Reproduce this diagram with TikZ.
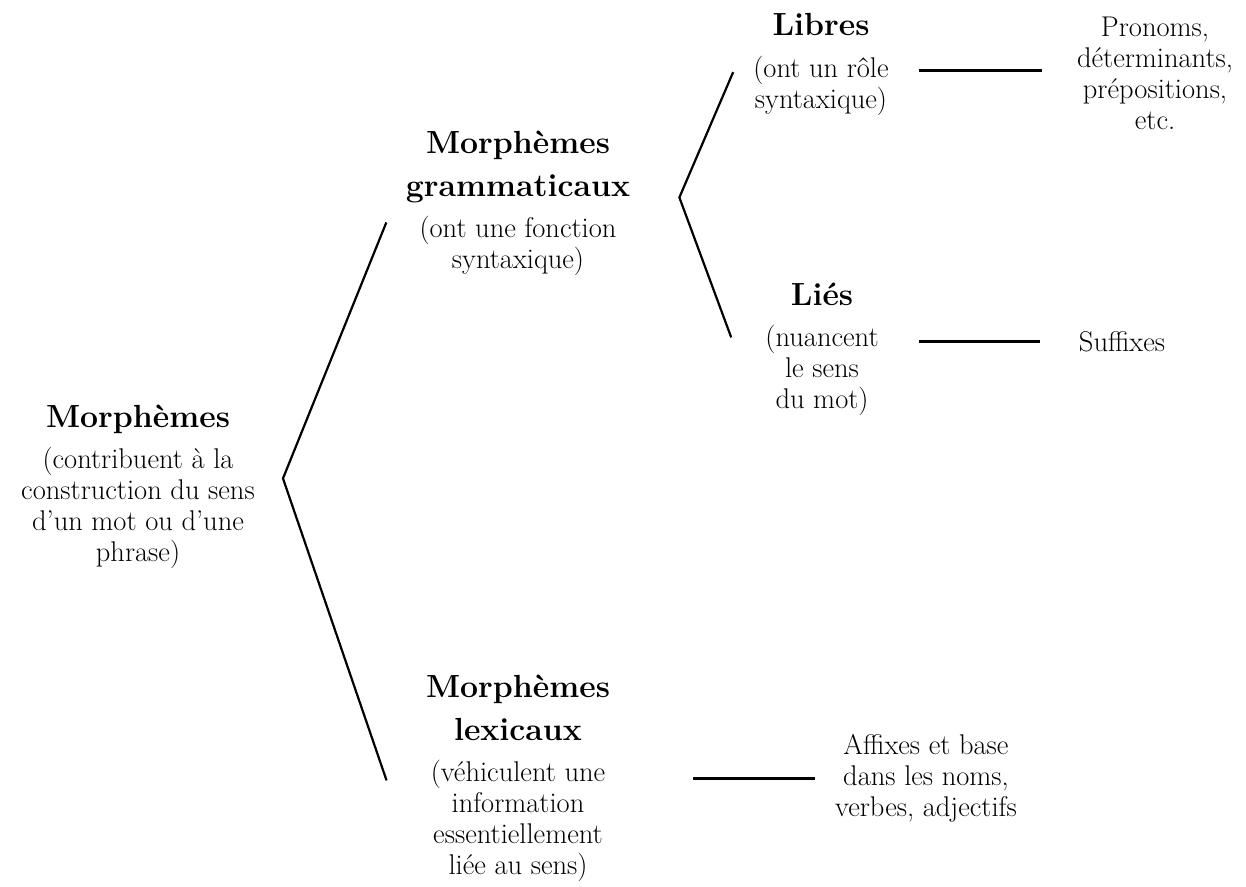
\documentclass[tikz,border=0pt]{standalone}
\usepackage{fontspec}
\usetikzlibrary{positioning,calc}

\begin{document}
\begin{tikzpicture}[x=1pt, y=-1pt, node distance=13pt,
  head/.style={font=\fontsize{32}{43}\selectfont\bfseries, align=center, inner sep=0pt, text depth=7pt},
  desc/.style={font=\fontsize{28.5}{31}\selectfont, align=center, inner sep=0pt},
  fork/.style={line width=2.2pt, line join=miter},
  link/.style={line width=2.8pt}]
\useasboundingbox (0,0) rectangle (1246,886);

% racine
\node[head, anchor=north] (morph) at (138,404.5) {Morphèmes};
\node[desc, below=of morph] (morphtxt) {(contribuent à la\\construction du sens\\d’un mot ou d’une\\phrase)};

% deux branches
\node[head, anchor=north] (gram) at (518,130.5) {Morphèmes\\grammaticaux};
\node[desc, below=of gram] (gramtxt) {(ont une fonction\\syntaxique)};
\node[head, anchor=north] (lex) at (518,674.5) {Morphèmes\\lexicaux};
\node[desc, below=of lex] (lextxt) {(véhiculent une\\information\\essentiellement\\liée au sens)};

% libres / liés
\node[head, anchor=north] (libres) at (821,13.5) {Libres};
\node[desc, below=of libres] (librestxt) {(ont un rôle\\syntaxique)};
\node[head, anchor=north] (lies) at (822,282.5) {Liés};
\node[desc, below=of lies] (liestxt) {(nuancent\\le sens\\du mot)};

% exemples
\node[desc] (pronoms) at (1155,73) {Pronoms,\\déterminants,\\prépositions,\\etc.};
\node[desc] (suffixes) at (1122,342) {Suffixes};
\node[desc] (affixes) at (926,778) {Affixes et base\\dans les noms,\\verbes, adjectifs};

% accolades
\draw[fork] ($(gramtxt.north west)+(-33,6)$) -- ($(morphtxt.north east)+(28,31)$) -- ($(lextxt.north west)+(-44,20)$);
\draw[fork] ($(librestxt.north west)+(-20,16)$) -- ($(gram.south east)+(49,-6)$) -- ($(liestxt.north west)+(-34,12)$);

% traits
\coordinate (librescut) at ($(librestxt.north east)+(30,14)$);
\coordinate (liescut) at ($(liestxt.north east)+(40,16)$);
\coordinate (lexcut) at ($(lextxt.north east)+(88,18)$);
\draw[link] (librescut) -- ($(pronoms.west |- librescut)+(-35,0)$);
\draw[link] (liescut) -- ($(suffixes.west |- liescut)+(-39,0)$);
\draw[link] (lexcut) -- ($(affixes.west |- lexcut)+(-20,0)$);
\end{tikzpicture}
\end{document}
